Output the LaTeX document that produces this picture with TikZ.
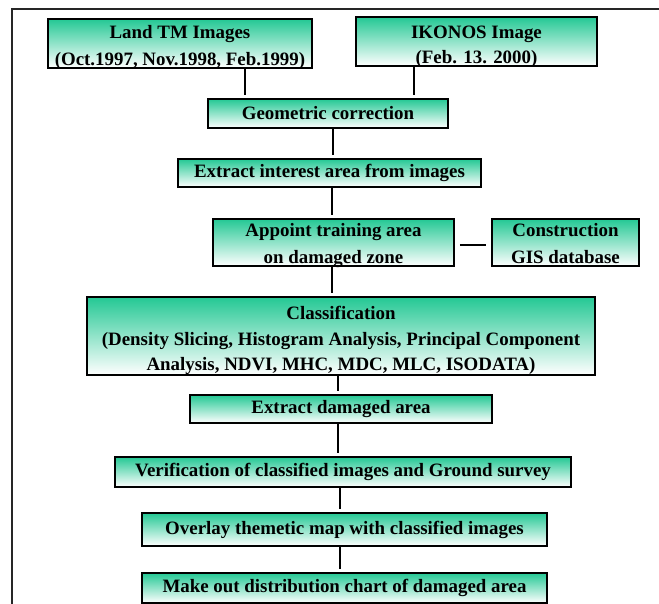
\documentclass[tikz,border=0pt]{standalone}
\usepackage{fontspec}
\setmainfont{Liberation Serif}[BoldFont={Liberation Serif Bold}]
\usetikzlibrary{calc}
\definecolor{gtop}{RGB}{36,200,148}
\begin{document}
\begin{tikzpicture}[x=1pt,y=-1pt,
  box/.style={draw=black,line width=1.9pt,top color=gtop,bottom color=white,
    font=\fontsize{18.9}{27}\selectfont\bfseries,align=center,inner sep=0pt},
  link/.style={line width=1.7pt,shorten >=3pt}]
\useasboundingbox (0,0) rectangle (659,604);
% outer frame
\draw[line width=2pt,black!85] (12,604) -- (12,9) -- (659,9);
% boxes
\node[box,minimum width=264pt,text height=47pt,text depth=2pt] (land) at (180,43.5) {Land TM Images\\(Oct.1997, Nov.1998, Feb.1999)};
\node[box,minimum width=241pt,text height=46.5pt,text depth=2.5pt,font=\fontsize{18.9}{24.5}\selectfont\bfseries] (ikon) at (476.5,41.5) {IKONOS Image\\(Feb. 13. 2000)};
\node[box,minimum width=240pt,minimum height=29pt] (geo) at (328,113.5) {Geometric correction};
\node[box,minimum width=303pt,minimum height=28pt] (ext) at (329.5,173) {Extract interest area from images};
\node[box,minimum width=241pt,text height=44.5pt,text depth=2.5pt] (app) at (333.5,242.5) {Appoint training area\\on damaged zone};
\node[box,minimum width=147pt,text height=44.5pt,text depth=2.5pt] (gis) at (565.5,242.5) {Construction\\GIS database};
\node[box,minimum width=508pt,text height=73.5pt,text depth=4.5pt,font=\fontsize{18.9}{25.5}\selectfont\bfseries] (cls) at (341,336) {Classification\\(Density Slicing, Histogram Analysis, Principal Component\\Analysis, NDVI, MHC, MDC, MLC, ISODATA)};
\node[box,minimum width=302pt,minimum height=28pt] (exd) at (341,409) {Extract damaged area};
\node[box,minimum width=456pt,minimum height=30pt] (ver) at (343,472) {Verification of classified images and Ground survey};
\node[box,minimum width=405pt,minimum height=33pt] (ovl) at (344.5,529.5) {Overlay themetic map with classified images};
\node[box,minimum width=405pt,minimum height=30pt] (mko) at (344.5,588) {Make out distribution chart of damaged area};
% connector positions
\coordinate (xa) at (245,0);
\coordinate (xb) at (414,0);
\coordinate (xc) at (333,0);
\coordinate (xd) at (332,0);
\coordinate (xe) at (338,0);
\coordinate (xf) at (340,0);
\coordinate (yg) at (0,245);
% connectors
\draw[link] (land.south -| xa) -- (geo.north -| xa);
\draw[link] (ikon.south -| xb) -- (geo.north -| xb);
\draw[link] (geo.south -| xc) -- (ext.north -| xc);
\draw[link] (ext.south -| xd) -- (app.north -| xd);
\draw[link] (app.south -| xd) -- (cls.north -| xd);
\draw[link] (cls.south -| xe) -- (exd.north -| xe);
\draw[link] (exd.south -| xe) -- (ver.north -| xe);
\draw[link] (ver.south -| xf) -- (ovl.north -| xf);
\draw[link] (ovl.south -| xf) -- (mko.north -| xf);
\draw[line width=1.7pt,shorten <=5pt,shorten >=5pt] (app.east |- yg) -- (gis.west |- yg);
\end{tikzpicture}
\end{document}
